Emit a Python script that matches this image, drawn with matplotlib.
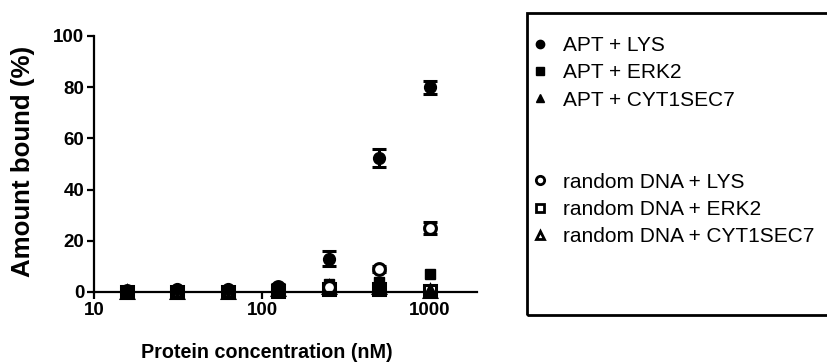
import numpy as np
import matplotlib.pyplot as plt
from matplotlib.lines import Line2D
from matplotlib.patches import Rectangle

plt.rcParams['font.family'] = ['Liberation Sans', 'DejaVu Sans']

conc = [15.625, 31.25, 62.5, 125, 250, 500, 1000]

apt_lys = [0.5, 1, 1, 2, 13, 52.5, 80]
apt_lys_err = [0.3, 0.5, 0.5, 1, 3, 3.5, 2.5]
apt_erk2 = [0, 0.5, 0.5, 1, 3, 4, 7]
apt_cyt = [0, 0, 0, 1, 1.5, 1.5, 0.5]
rnd_lys = [0.5, 0.5, 0.5, 2, 2, 9, 25]
rnd_lys_err = [0.3, 0.3, 0.3, 0.5, 1, 1, 2.5]
rnd_erk2 = [0, 0, 0, 0.5, 1, 1, 0.5]
rnd_cyt = [0, 0, 0, 1, 2, 2, 0.5]

labels_apt = ['APT + LYS', 'APT + ERK2', 'APT + CYT1SEC7']
labels_rnd = ['random DNA + LYS', 'random DNA + ERK2', 'random DNA + CYT1SEC7']

fig = plt.figure(figsize=(8.27, 3.63), dpi=100)
ax = fig.add_axes([94/827, 1-292/363, (477-94)/827, (292-36)/363])

ms = 8.5
ebkw = dict(ecolor='k', elinewidth=2.2, capsize=5, capthick=2.2, clip_on=False)
ax.errorbar(conc, rnd_lys, yerr=rnd_lys_err, fmt='o', mfc='white', mec='k', mew=2.2, ms=ms, **ebkw)
ax.plot(conc, rnd_erk2, 's', mfc='white', mec='k', mew=2.2, ms=ms, clip_on=False)
ax.plot(conc, rnd_cyt, '^', mfc='white', mec='k', mew=2.2, ms=ms, clip_on=False)
ax.plot(conc, apt_erk2, 's', color='k', ms=ms - 1, clip_on=False)
ax.plot(conc, apt_cyt, '^', color='k', ms=ms, clip_on=False)
ax.errorbar(conc, apt_lys, yerr=apt_lys_err, fmt='o', color='k', ms=ms, **ebkw)

ax.set_xscale('log')
ax.set_xlim(10, 10 ** (1 + (477 - 94) / 168))
ax.set_ylim(0, 100)
ax.set_xticks([10, 100, 1000])
ax.set_xticklabels(['10', '100', '1000'])
ax.minorticks_off()
ax.set_yticks([0, 20, 40, 60, 80, 100])
for s in ['top', 'right']:
    ax.spines[s].set_visible(False)
for s in ['left', 'bottom']:
    ax.spines[s].set_linewidth(1.6)
ax.tick_params(width=1.6, length=5, direction='out', labelsize=13.5, pad=2)
for t in ax.get_xticklabels() + ax.get_yticklabels():
    t.set_fontweight('bold')

fig.text(267/827, 1 - 353/363, 'Protein concentration (nM)', ha='center', va='center',
         fontsize=14.2, fontweight='bold')
fig.text(23/827, 1 - 161/363, 'Amount bound (%)', ha='center', va='center',
         rotation=90, fontsize=18.6, fontweight='bold')

# legend box (runs off the right edge)
fig.patches.append(Rectangle((527/827, 1 - 315/363), 0.5, (315 - 13)/363,
                             transform=fig.transFigure, fill=False, lw=2, ec='k'))

handles = [
    Line2D([], [], ls='none', marker='o', color='k', ms=6),
    Line2D([], [], ls='none', marker='s', color='k', ms=5.5),
    Line2D([], [], ls='none', marker='^', color='k', ms=5.5),
    Line2D([], [], ls='none'),
    Line2D([], [], ls='none'),
    Line2D([], [], ls='none', marker='o', mfc='white', mec='k', mew=2, ms=6),
    Line2D([], [], ls='none', marker='s', mfc='white', mec='k', mew=2, ms=5.5),
    Line2D([], [], ls='none', marker='^', mfc='white', mec='k', mew=2, ms=6),
]
labels = labels_apt + ['', ''] + labels_rnd
fig.legend(handles, labels, loc='upper left', bbox_to_anchor=(530/827, 1 - 36/363),
           frameon=False, fontsize=15, labelspacing=0.40, handlelength=1.0,
           handletextpad=0.59, borderpad=0, borderaxespad=0)

fig.savefig('out.png', dpi=100)
